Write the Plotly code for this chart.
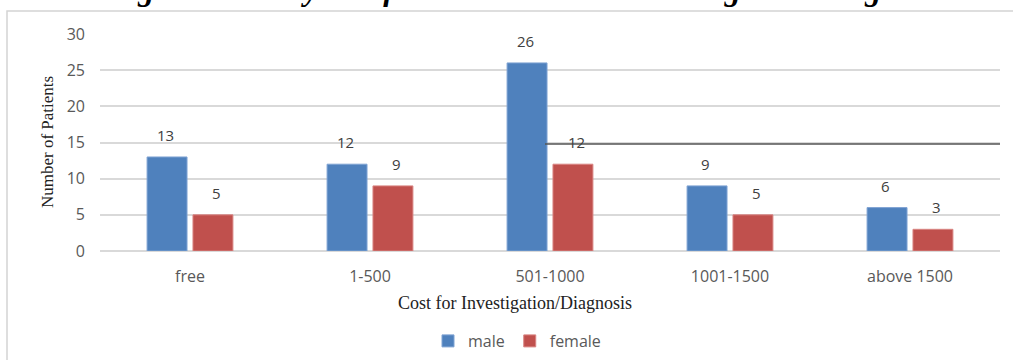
import plotly.graph_objects as go

categories = ["free", "1-500", "501-1000", "1001-1500", "above 1500"]
male = [13, 12, 26, 9, 6]
female = [5, 9, 12, 5, 3]
y_ticks = [0, 5, 10, 15, 20, 25, 30]

W, H = 1013, 360
L, R, T, B = 100, 13, 34, 109
PW, PH = W - L - R, H - T - B


def px_x(p):
    return (p - L) / PW


def px_y(p):
    return (H - B - p) / PH


MALE_C = "#4F81BD"
FEMALE_C = "#C0504D"
TXT = "#595959"
SANS = "Open Sans, sans-serif"
SERIF = "Liberation Serif, serif"

fig = go.Figure()
fig.add_trace(go.Bar(name="male", x=categories, y=male,
                     marker=dict(color=MALE_C, line=dict(color="#7FA3D3", width=1))))
fig.add_trace(go.Bar(name="female", x=categories, y=female,
                     marker=dict(color=FEMALE_C, line=dict(color="#D98583", width=1))))

annotations = []
# value labels above each bar
for cat, v in zip(categories, male):
    annotations.append(dict(x=cat, y=v, xref="x", yref="y", text=str(v), showarrow=False,
                            xshift=-25, yshift=10, yanchor="bottom",
                            font=dict(family=SANS, size=15, color="#404040")))
for cat, v in zip(categories, female):
    annotations.append(dict(x=cat, y=v, xref="x", yref="y", text=str(v), showarrow=False,
                            xshift=26, yshift=10, yanchor="bottom",
                            font=dict(family=SANS, size=15, color="#404040")))

# figure caption at the top
annotations.append(dict(x=px_x(528), y=px_y(9), xref="paper", yref="paper",
                        text="<b><i>Figure 3: Analysis Of Cost Utilized For Investigation/Diagnosis</i></b>",
                        showarrow=False, xanchor="center", yanchor="bottom",
                        font=dict(family=SERIF, size=32, color="#000000")))
# axis titles
annotations.append(dict(x=px_x(515), y=px_y(303), xref="paper", yref="paper",
                        text="Cost for Investigation/Diagnosis", showarrow=False,
                        xanchor="center", yanchor="middle",
                        font=dict(family=SERIF, size=18, color="#222222")))
annotations.append(dict(x=px_x(47), y=px_y(142), xref="paper", yref="paper",
                        text="Number of Patients", showarrow=False, textangle=-90,
                        xanchor="center", yanchor="middle",
                        font=dict(family=SERIF, size=17, color="#222222")))

shapes = [
    # outer chart frame
    dict(type="rect", xref="paper", yref="paper",
         x0=px_x(7), x1=px_x(1030), y0=px_y(380), y1=px_y(11),
         line=dict(color="#D4D4D4", width=1.5), layer="below"),
    # dark rule across the right half
    dict(type="line", xref="paper", yref="y", x0=px_x(545), x1=px_x(1000),
         y0=14.8, y1=14.8, line=dict(color="#555555", width=1.5)),
]

fig.update_layout(
    width=W, height=H,
    margin=dict(l=L, r=R, t=T, b=B, autoexpand=False),
    paper_bgcolor="white", plot_bgcolor="white",
    barmode="group", bargap=0.49, bargroupgap=0.13,
    annotations=annotations, shapes=shapes,
    showlegend=True,
    legend=dict(orientation="h", x=px_x(517), y=px_y(341), xanchor="center", yanchor="middle",
                font=dict(family=SANS, size=16, color=TXT),
                itemwidth=30, tracegroupgap=0),
    xaxis=dict(showgrid=False, showline=False, zeroline=False, ticks="",
               ticklabelstandoff=14,
               tickfont=dict(family=SANS, size=16, color=TXT)),
    yaxis=dict(range=[0, 30], tickvals=y_ticks, showgrid=True, gridcolor="#D9D9D9", gridwidth=1.5,
               zeroline=True, zerolinecolor="#D9D9D9", zerolinewidth=1.5, showline=False,
               ticks="", ticklabelstandoff=14,
               tickfont=dict(family=SANS, size=16, color=TXT)),
)

fig.write_html("out.html")
